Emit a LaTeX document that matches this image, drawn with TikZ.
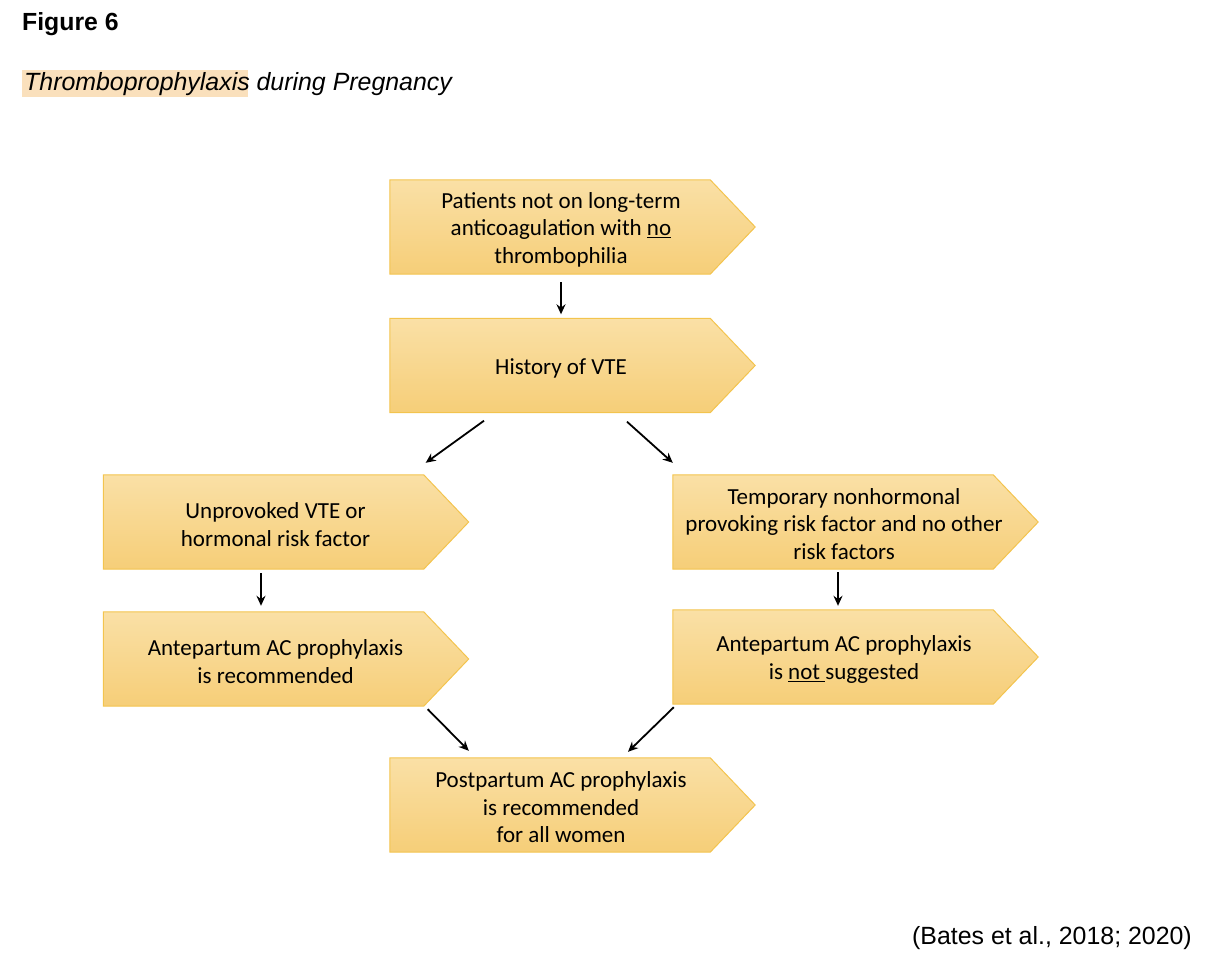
\documentclass[tikz,border=0pt]{standalone}
\usepackage{fontspec}
\setmainfont{Carlito}
\newfontfamily\arialfont{Liberation Sans}
\usetikzlibrary{calc,arrows.meta,backgrounds}
\definecolor{boxtop}{RGB}{250,224,166}
\definecolor{boxbot}{RGB}{246,206,120}
\definecolor{boxline}{RGB}{243,196,78}
\definecolor{hl}{RGB}{250,224,188}
\tikzset{
  stepbox/.style={rectangle,minimum width=320pt,minimum height=94pt,inner sep=0pt},
  boxtext/.style={align=center,font=\fontsize{23}{27.5}\selectfont,inner sep=0pt},
  arr/.style={-{Stealth[length=10pt,width=9pt]},line width=1.8pt,black},
  pent/.style={top color=boxtop,bottom color=boxbot,draw=boxline,line width=1pt,line join=miter}
}
\newcommand{\pentagon}[1]{%
  \begin{scope}[on background layer]
  \path[pent] (#1.north west) -- (#1.north east) -- ($(#1.east)+(45pt,0)$) -- (#1.south east) -- (#1.south west) -- cycle;
  \end{scope}}
\begin{document}
\begin{tikzpicture}[x=1pt,y=1pt]
\useasboundingbox (0,0) rectangle (1228,-974);
% title
\fill[hl] (22,-70) rectangle (248,-97);
\node[anchor=base west,inner sep=0pt,font=\arialfont\bfseries\fontsize{24.8}{29}\selectfont] (title) at (22,-31) {Figure 6};
\node[anchor=base west,inner sep=0pt,font=\arialfont\itshape\fontsize{24.9}{29}\selectfont] (sub) at (24,-90) {Thromboprophylaxis during Pregnancy};
\node[anchor=base east,inner sep=0pt,font=\arialfont\fontsize{24.9}{29}\selectfont] (cite) at (1192,-944) {(Bates et al., 2018; 2020)};
% boxes
\node[stepbox] (b1) at (550,-227) {};
\node[stepbox] (b2) at (550,-365.5) {};
\node[stepbox] (b3) at (263.5,-522) {};
\node[stepbox] (b4) at (833,-522) {};
\node[stepbox] (b5) at (263.5,-659) {};
\node[stepbox] (b6) at (833,-657) {};
\node[stepbox] (b7) at (550,-805) {};
\pentagon{b1}\pentagon{b2}\pentagon{b3}\pentagon{b4}\pentagon{b5}\pentagon{b6}\pentagon{b7}
\node[boxtext] (t1) at ($(b1.center)+(11,-2.5)$) {Patients not on long-term\\anticoagulation with \underline{no}\\thrombophilia};
\node[boxtext] (t2) at ($(b2.center)+(11,-2.5)$) {History of VTE};
\node[boxtext] (t3) at ($(b3.center)+(12,-2.5)$) {Unprovoked VTE or\\hormonal risk factor};
\node[boxtext] (t4) at ($(b4.center)+(11,-2)$) {Temporary nonhormonal\\provoking risk factor and no other\\risk factors};
\node[boxtext] (t5) at ($(b5.center)+(12,-2.5)$) {Antepartum AC prophylaxis\\is recommended};
\node[boxtext] (t6) at ($(b6.center)+(11,-2.5)$) {Antepartum AC prophylaxis\\is \underline{not\ }suggested};
\node[boxtext] (t7) at ($(b7.center)+(11,-2.5)$) {Postpartum AC prophylaxis\\is recommended\\for all women};
% arrows
\draw[arr] ($(b1.south)+(11,-8)$) -- ($(b2.north)+(11,4)$);
\draw[arr] ($(b2.south)+(-66,-8)$) -- ($(b3.north east)+(2,12)$);
\draw[arr] ($(b2.south)+(77,-9)$) -- ($(b4.north west)+(0,12)$);
\draw[arr] ($(b3.south)+(-2.5,-4)$) -- ($(b5.north)+(-2.5,6)$);
\draw[arr] ($(b4.south)+(5,-3)$) -- ($(b6.north)+(5,4)$);
\draw[arr] ($(b5.south east)+(4,-3)$) -- ($(b7.north west)+(79,7)$);
\draw[arr] ($(b6.south west)+(1,-3)$) -- ($(b7.north)+(78,6)$);
\end{tikzpicture}
\end{document}
